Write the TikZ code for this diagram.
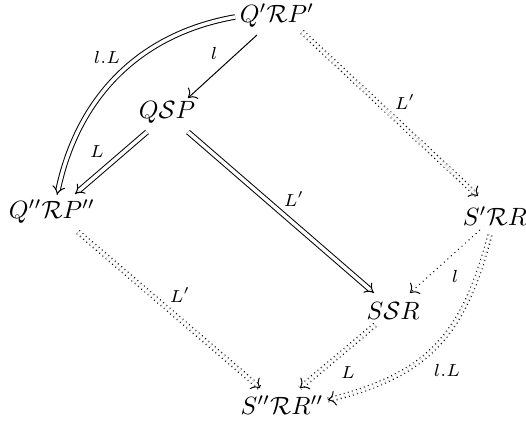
\documentclass[tikz,border=0pt]{standalone}
\usetikzlibrary{arrows.meta}
\begin{document}
\begin{tikzpicture}[x=0.4pt,y=0.4pt,
  obj/.style={inner sep=2pt},
  lab/.style={font=\scriptsize, inner sep=1pt},
  one/.style={line width=0.4pt, -{To[length=3pt,width=6pt]}},
  two/.style={line width=0.4pt, double, double distance=1.4pt, -{Implies}},
  ddot/.style={line width=0.4pt, double, double distance=1.3pt, dash pattern=on 0.4pt off 1.3pt},
  dtip/.style={draw=white, line width=0.4pt, -{To[color=black,length=3pt,width=6pt]}},
  sdot/.style={one, dash pattern=on 0.4pt off 1.5pt}]
\useasboundingbox (0,0) rectangle (526,424);
% objects
\node[obj] (A) at (277,408) {$Q'\mathcal{R}P'$};
\node[obj] (B) at (167,312) {$Q\mathcal{S}P$};
\node[obj] (C) at (52,212) {$Q''\mathcal{R}P''$};
\node[obj] (D) at (495,208) {$S'\mathcal{R}R$};
\node[obj] (E) at (393,113) {$S\mathcal{S}R$};
\node[obj] (F) at (282,19) {$S''\mathcal{R}R''$};
% end points
\coordinate (a1) at ([shift={(-42,-1)}]A.center);
\coordinate (c1) at ([shift={(5,17)}]C.center);
\coordinate (a2) at ([shift={(-20,-19)}]A.center);
\coordinate (b2) at ([shift={(21,14)}]B.center);
\coordinate (b3) at ([shift={(-20,-20)}]B.center);
\coordinate (c3) at ([shift={(23,18)}]C.center);
\coordinate (b4) at ([shift={(21,-20)}]B.center);
\coordinate (e4) at ([shift={(-19,18)}]E.center);
\coordinate (a5) at ([shift={(25,-16)}]A.center);
\coordinate (d5) at ([shift={(-17,20)}]D.center);
\coordinate (c6) at ([shift={(26,-20)}]C.center);
\coordinate (f6) at ([shift={(-22,17)}]F.center);
\coordinate (d7) at ([shift={(-15,-14)}]D.center);
\coordinate (e7) at ([shift={(17,18)}]E.center);
\coordinate (e8) at ([shift={(-18,-14)}]E.center);
\coordinate (f8) at ([shift={(18,17)}]F.center);
\coordinate (d9) at ([shift={(-5,-19)}]D.center);
\coordinate (f9) at ([shift={(46,5)}]F.center);
% solid connectors
\draw[two] (a1) to[out=190,in=78] (c1);
\draw[one] (a2) -- (b2);
\draw[two] (b3) -- (c3);
\draw[two] (b4) -- (e4);
% dotted connectors
\draw[ddot] (a5) -- (d5);
\draw[dtip] (a5) -- (d5);
\draw[ddot] (c6) -- (f6);
\draw[dtip] (c6) -- (f6);
\draw[sdot] (d7) -- (e7);
\draw[ddot] (e8) -- (f8);
\draw[dtip] (e8) -- (f8);
\draw[ddot] (d9) to[out=255,in=14,looseness=1.15] (f9);
\draw[dtip] (d9) to[out=255,in=14,looseness=1.15] (f9);
% labels
\node[lab] (l1) at (107,367) {$l.L$};
\node[lab] (l2) at (214,371) {$l$};
\node[lab] (l3) at (97,272) {$L$};
\node[lab] (l4) at (294,225) {$L'$};
\node[lab] (l5) at (405,322) {$L'$};
\node[lab] (l6) at (180,129) {$L'$};
\node[lab] (l7) at (455,148) {$l$};
\node[lab] (l8) at (348,51) {$L$};
\node[lab] (l9) at (447,54) {$l.L$};
\end{tikzpicture}
\end{document}
